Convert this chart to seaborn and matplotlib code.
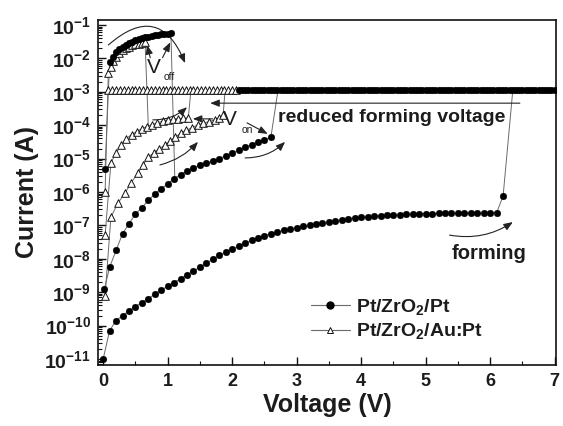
import numpy as np
import pandas as pd
import matplotlib
matplotlib.use("Agg")
import matplotlib.pyplot as plt
import seaborn as sns
from matplotlib.lines import Line2D
from matplotlib.ticker import FixedLocator, LogLocator, MultipleLocator, NullFormatter

# ---------------- data (voltage in V, current as log10(A)) ----------------
# Pt/ZrO2/Pt : forming sweep
pt_form_v = [0.0, 0.1, 0.2, 0.3, 0.4, 0.5, 0.6, 0.7, 0.8, 0.9, 1.0, 1.1, 1.2, 1.3, 1.4,
             1.5, 1.6, 1.7, 1.8, 1.9, 2.0, 2.1, 2.2, 2.3, 2.4, 2.5, 2.6, 2.7, 2.8, 2.9,
             3.0, 3.1, 3.2, 3.3, 3.4, 3.5, 3.6, 3.7, 3.8, 3.9, 4.0, 4.1, 4.2, 4.3, 4.4,
             4.5, 4.6, 4.7, 4.8, 4.9, 5.0, 5.1, 5.2, 5.3, 5.4, 5.5, 5.6, 5.7, 5.8, 5.9,
             6.0, 6.1, 6.2]
pt_form_log = [-11.00, -10.15, -9.85, -9.70, -9.56, -9.43, -9.31, -9.19, -9.06, -8.94,
               -8.82, -8.71, -8.60, -8.48, -8.37, -8.25, -8.13, -8.01, -7.90, -7.80,
               -7.71, -7.62, -7.53, -7.45, -7.37, -7.31, -7.25, -7.20, -7.15, -7.11,
               -7.07, -7.03, -7.00, -6.96, -6.93, -6.90, -6.87, -6.84, -6.81, -6.78,
               -6.76, -6.74, -6.72, -6.71, -6.70, -6.69, -6.68, -6.67, -6.66, -6.66,
               -6.65, -6.65, -6.64, -6.64, -6.64, -6.63, -6.63, -6.63, -6.63, -6.63,
               -6.62, -6.62, -6.12]
# Pt/ZrO2/Pt : set sweep
pt_set_v = [0.02, 0.1, 0.2, 0.3, 0.4, 0.5, 0.6, 0.7, 0.8, 0.9, 1.0, 1.1, 1.2, 1.3, 1.4,
            1.5, 1.6, 1.7, 1.8, 1.9, 2.0, 2.1, 2.2, 2.3, 2.4, 2.5, 2.6]
pt_set_log = [-8.90, -8.25, -7.75, -7.25, -6.95, -6.66, -6.47, -6.25, -6.06, -5.90,
              -5.76, -5.60, -5.48, -5.36, -5.27, -5.20, -5.14, -5.08, -5.00, -4.92,
              -4.84, -4.75, -4.66, -4.58, -4.50, -4.43, -4.36]
# Pt/ZrO2/Pt : reset sweep
pt_reset_v = [0.03, 0.10, 0.15, 0.20, 0.25, 0.30, 0.35, 0.40, 0.45, 0.50, 0.55, 0.60,
              0.65, 0.70, 0.75, 0.80, 0.85, 0.90, 0.95, 1.00, 1.05]
pt_reset_log = [-5.30, -2.11, -1.95, -1.81, -1.72, -1.65, -1.59, -1.54, -1.50, -1.46,
                -1.43, -1.40, -1.37, -1.35, -1.33, -1.31, -1.30, -1.28, -1.27, -1.26, -1.24]
# Pt/ZrO2/Pt : compliance
pt_comp_v = [2.10, 2.15, 2.20, 2.25, 2.30, 2.35, 2.40, 2.45, 2.50, 2.55, 2.60, 2.65,
             2.70, 2.75, 2.80, 2.85, 2.90, 2.95, 3.00, 3.05, 3.10, 3.15, 3.20, 3.25,
             3.30, 3.35, 3.40, 3.45, 3.50, 3.55, 3.60, 3.65, 3.70, 3.75, 3.80, 3.85,
             3.90, 3.95, 4.00, 4.05, 4.10, 4.15, 4.20, 4.25, 4.30, 4.35, 4.40, 4.45,
             4.50, 4.55, 4.60, 4.65, 4.70, 4.75, 4.80, 4.85, 4.90, 4.95, 5.00, 5.05,
             5.10, 5.15, 5.20, 5.25, 5.30, 5.35, 5.40, 5.45, 5.50, 5.55, 5.60, 5.65,
             5.70, 5.75, 5.80, 5.85, 5.90, 5.95, 6.00, 6.05, 6.10, 6.15, 6.20, 6.25,
             6.30, 6.35, 6.40, 6.45, 6.50, 6.55, 6.60, 6.65, 6.70, 6.75, 6.80, 6.85,
             6.90, 6.95, 7.00]
compliance_log = -2.96

# Pt/ZrO2/Au:Pt : reset sweep
au_reset_v = [0.03, 0.08, 0.12, 0.16, 0.20, 0.25, 0.30, 0.35, 0.40, 0.45, 0.50, 0.55,
              0.60, 0.65]
au_reset_log = [-6.00, -2.45, -2.25, -2.08, -1.95, -1.84, -1.76, -1.70, -1.65, -1.61,
                -1.58, -1.56, -1.54, -1.52]
# Pt/ZrO2/Au:Pt : compliance
au_comp_v = [0.08, 0.14, 0.20, 0.26, 0.32, 0.38, 0.44, 0.50, 0.56, 0.62, 0.68, 0.74,
             0.80, 0.86, 0.92, 0.98, 1.04, 1.10, 1.16, 1.22, 1.28, 1.34, 1.40, 1.46,
             1.52, 1.58, 1.64, 1.70, 1.76, 1.82, 1.88, 1.94, 2.00, 2.06]
# Pt/ZrO2/Au:Pt : set sweep 1
au_set1_v = [0.03, 0.12, 0.20, 0.28, 0.36, 0.44, 0.52, 0.60, 0.68, 0.76, 0.84, 0.92,
             1.00, 1.08, 1.16, 1.24, 1.32]
au_set1_log = [-7.30, -5.13, -4.83, -4.59, -4.40, -4.28, -4.19, -4.10, -4.04, -3.98,
               -3.93, -3.88, -3.84, -3.82, -3.80, -3.79, -3.78]
# Pt/ZrO2/Au:Pt : set sweep 2
au_set2_v = [0.03, 0.12, 0.23, 0.34, 0.43, 0.54, 0.62, 0.70, 0.79, 0.87, 0.96, 1.04,
             1.12, 1.21, 1.29, 1.38, 1.47, 1.55, 1.64, 1.73, 1.80, 1.86]
au_set2_log = [-9.10, -6.75, -6.33, -6.03, -5.73, -5.43, -5.18, -4.95, -4.82, -4.70,
               -4.59, -4.47, -4.35, -4.23, -4.15, -4.07, -3.99, -3.94, -3.89, -3.84,
               -3.77, -3.69]

# jumps (set / reset / forming transitions), voltage pairs and log-current pairs
jump_v = [[6.20, 6.35], [2.60, 2.71], [1.32, 1.36], [1.86, 1.89], [1.05, 1.11], [0.65, 0.70]]
jump_log = [[-6.12, -2.96], [-4.36, -2.96], [-3.78, -2.96], [-3.69, -2.96],
            [-1.24, -5.55], [-1.52, -4.03]]

x_ticks = [0, 1, 2, 3, 4, 5, 6, 7]
y_exps = [-1, -2, -3, -4, -5, -6, -7, -8, -9, -10, -11]
legend_labels = ["Pt/ZrO$_2$/Pt", "Pt/ZrO$_2$/Au:Pt"]


def frame(name, v, logi):
    return pd.DataFrame({"V": v, "I": 10.0 ** np.asarray(logi, dtype=float), "sweep": name})


circ = pd.concat([
    frame("pt_form", pt_form_v, pt_form_log),
    frame("pt_set", pt_set_v, pt_set_log),
    frame("pt_reset", pt_reset_v, pt_reset_log),
    frame("pt_comp", pt_comp_v, [compliance_log] * len(pt_comp_v)),
], ignore_index=True)
tri = pd.concat([
    frame("au_reset", au_reset_v, au_reset_log),
    frame("au_comp", au_comp_v, [compliance_log] * len(au_comp_v)),
    frame("au_set1", au_set1_v, au_set1_log),
    frame("au_set2", au_set2_v, au_set2_log),
], ignore_index=True)
jumps = pd.concat([frame(f"jump{i}", v, l) for i, (v, l) in enumerate(zip(jump_v, jump_log))],
                  ignore_index=True)
lines = pd.concat([circ, tri, jumps], ignore_index=True)

# ---------------- style ----------------
sns.set_theme(style="ticks")
plt.rcParams["font.family"] = ["Liberation Sans", "DejaVu Sans"]
plt.rcParams["font.weight"] = "bold"
plt.rcParams["mathtext.fontset"] = "custom"
plt.rcParams["mathtext.rm"] = "Liberation Sans:bold"
plt.rcParams["mathtext.it"] = "Liberation Sans:bold"
plt.rcParams["mathtext.bf"] = "Liberation Sans:bold"
plt.rcParams["mathtext.default"] = "rm"
TXT = "#1c1c1c"

fig = plt.figure(figsize=(5.63, 4.26), dpi=100)
ax = fig.add_axes([98 / 563, 1 - 365 / 426, (556 - 98) / 563, (365 - 20) / 426])
ax.set_yscale("log")

sns.lineplot(data=lines, x="V", y="I", units="sweep", estimator=None, sort=False,
             color="#6a6a6a", lw=0.7, ax=ax, legend=False, zorder=2)
sns.scatterplot(data=tri, x="V", y="I", marker="^", s=30, color="white",
                edgecolor="#111111", linewidth=0.7, ax=ax, legend=False, zorder=3)
sns.scatterplot(data=circ, x="V", y="I", marker="o", s=24, color="black",
                edgecolor="black", linewidth=0.2, ax=ax, legend=False, zorder=4)

ax.set_xlim(-0.08, 7.02)
ax.set_ylim(10 ** -11.18, 10 ** -0.85)
ax.set_xticks(x_ticks)
ax.set_xticklabels([str(t) for t in x_ticks])
ax.xaxis.set_minor_locator(MultipleLocator(0.5))
ax.yaxis.set_major_locator(FixedLocator([10.0 ** e for e in y_exps]))
ax.set_yticklabels([rf"$10^{{{e}}}$" for e in y_exps])
ax.yaxis.set_minor_locator(LogLocator(base=10, subs=np.arange(2, 10), numticks=100))
ax.yaxis.set_minor_formatter(NullFormatter())
ax.tick_params(which="both", direction="in", top=False, right=False, colors="#111111")
ax.tick_params(which="major", length=6, width=1.0)
ax.tick_params(which="minor", length=3, width=0.8)
ax.tick_params(axis="x", labelsize=13, pad=6, labelcolor=TXT)
ax.tick_params(axis="y", labelsize=14, pad=5, labelcolor=TXT)
for s in ax.spines.values():
    s.set_linewidth(1.2)
    s.set_color("#111111")

ax.set_xlabel("Voltage (V)", fontsize=18, fontweight="bold", color=TXT, labelpad=2)
ax.set_ylabel("Current (A)", fontsize=18, fontweight="bold", color=TXT, labelpad=4)

# ---------------- annotations ----------------
def L(e):
    return 10.0 ** e

arrow_kw = dict(arrowstyle="-|>,head_length=0.45,head_width=0.18", color="#222222", lw=0.8,
                shrinkA=0, shrinkB=0)

ax.annotate("", xy=(1.27, L(-2.14)), xytext=(0.08, L(-1.60)),
            arrowprops=dict(connectionstyle="arc3,rad=-0.7", **arrow_kw))
ax.annotate("", xy=(0.68, L(-1.60)), xytext=(0.73, L(-1.98)),
            arrowprops=dict(connectionstyle="arc3,rad=0", **arrow_kw))
ax.annotate("", xy=(1.04, L(-1.52)), xytext=(0.92, L(-1.98)),
            arrowprops=dict(connectionstyle="arc3,rad=0", **arrow_kw))
ax.text(0.78, L(-2.26), "V", fontsize=15, fontweight="normal", color=TXT, ha="center", va="center")
ax.text(1.02, L(-2.56), "off", fontsize=7.5, fontweight="normal", color=TXT, ha="center", va="center")

ax.text(1.97, L(-3.84), "V", fontsize=15, fontweight="normal", color=TXT, ha="center", va="center")
ax.text(2.23, L(-4.14), "on", fontsize=7.5, fontweight="normal", color=TXT, ha="center", va="center")
ax.annotate("", xy=(2.55, L(-4.26)), xytext=(2.23, L(-3.93)),
            arrowprops=dict(connectionstyle="arc3,rad=0", **arrow_kw))
ax.annotate("", xy=(1.39, L(-3.81)), xytext=(1.70, L(-3.81)),
            arrowprops=dict(connectionstyle="arc3,rad=0", **arrow_kw))
ax.annotate("", xy=(1.66, L(-3.34)), xytext=(6.46, L(-3.34)),
            arrowprops=dict(connectionstyle="arc3,rad=0", **arrow_kw))
ax.text(2.71, L(-3.78), "reduced forming voltage", fontsize=14, fontweight="bold",
        color=TXT, ha="left", va="center")

ax.annotate("", xy=(1.30, L(-3.46)), xytext=(0.77, L(-3.84)),
            arrowprops=dict(connectionstyle="arc3,rad=0.2", **arrow_kw))
ax.annotate("", xy=(1.47, L(-4.50)), xytext=(0.88, L(-5.19)),
            arrowprops=dict(connectionstyle="arc3,rad=0.15", **arrow_kw))
ax.annotate("", xy=(2.82, L(-4.50)), xytext=(2.20, L(-4.98)),
            arrowprops=dict(connectionstyle="arc3,rad=0.2", **arrow_kw))
ax.annotate("", xy=(6.35, L(-6.90)), xytext=(5.37, L(-7.29)),
            arrowprops=dict(connectionstyle="arc3,rad=0.2", **arrow_kw))
ax.text(5.99, L(-7.83), "forming", fontsize=14.5, fontweight="bold", color=TXT,
        ha="center", va="center")

# ---------------- legend ----------------
handles = [
    Line2D([], [], color="#6a6a6a", lw=0.8, marker="o", markersize=5,
           markerfacecolor="black", markeredgecolor="black"),
    Line2D([], [], color="#6a6a6a", lw=0.8, marker="^", markersize=5,
           markerfacecolor="white", markeredgecolor="#111111", markeredgewidth=0.7),
]
leg = ax.legend(handles, legend_labels, loc="center left",
                bbox_to_anchor=(311 / 563, 1 - 319 / 426), bbox_transform=fig.transFigure,
                frameon=False, fontsize=14, handlelength=2.0, handletextpad=0.3,
                labelspacing=0.25, borderpad=0, borderaxespad=0)
for t in leg.get_texts():
    t.set_color(TXT)
    t.set_fontweight("bold")

fig.savefig("out.png", dpi=100)
